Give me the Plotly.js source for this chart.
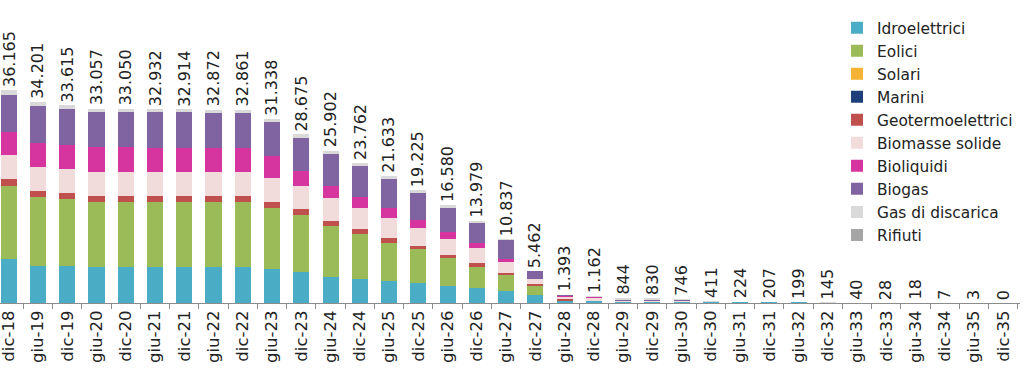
<!DOCTYPE html>
<html>
<head>
<meta charset="utf-8">
<script src="https://cdn.plot.ly/plotly-3.0.1.min.js"></script>
<style>
  html, body { margin: 0; padding: 0; background: #fff; }
  #chart { width: 1024px; height: 374px; }
</style>
</head>
<body>
<div id="chart"></div>
<script>
var categories = ["dic-18","giu-19","dic-19","giu-20","dic-20","giu-21","dic-21","giu-22","dic-22","giu-23",
  "dic-23","giu-24","dic-24","giu-25","dic-25","giu-26","dic-26","giu-27","dic-27","giu-28",
  "dic-28","giu-29","dic-29","giu-30","dic-30","giu-31","dic-31","giu-32","dic-32","giu-33",
  "dic-33","giu-34","dic-34","giu-35","dic-35"];

var totals = [36165,34201,33615,33057,33050,32932,32914,32872,32861,31338,
  28675,25902,23762,21633,19225,16580,13979,10837,5462,1393,
  1162,844,830,746,411,224,207,199,145,40,
  28,18,7,3,0];

var idroelettrici = [7500,6350,6350,6200,6200,6200,6200,6200,6200,5800,
  5200,4500,4100,3750,3450,2900,2600,2050,1350,350,
  300,150,150,100,200,120,110,110,80,25,
  18,10,5,2,0];
var eolici = [12400,11750,11300,11050,11000,10950,10950,10920,10920,10400,
  9750,8600,7600,6400,5700,4800,3600,2700,1500,50,
  20,0,0,0,0,0,0,0,0,0,
  0,0,0,0,0];
var solari = [0,0,0,0,0,0,0,0,0,0, 0,0,0,0,0,0,0,0,0,0, 0,0,0,0,0,0,0,0,0,0, 0,0,0,0,0];
var marini = [0,0,0,0,0,0,0,0,0,0, 0,0,0,0,0,0,0,0,0,0, 0,0,0,0,0,0,0,0,0,0, 0,0,0,0,0];
var geotermoelettrici = [1100,1000,1000,950,1000,1000,1000,1000,1000,1000,
  1000,900,850,850,600,450,550,400,350,200,
  60,0,0,0,0,0,0,0,0,0,
  0,0,0,0,0];
var biomasseSolide = [4100,4100,4100,4050,4100,4100,4100,4100,4100,4000,
  3900,3900,3600,3400,3050,2650,2550,1850,800,500,
  500,250,250,300,50,0,0,0,0,0,
  0,0,0,0,0];
var bioliquidi = [4000,4000,4100,4200,4150,4100,4100,4100,4100,3800,
  2550,2000,1800,1700,1300,1300,950,550,150,150,
  100,0,0,0,0,0,0,0,0,0,
  0,0,0,0,0];
var biogas = [6215,6300,6150,6030,6050,6050,6030,6020,6010,5770,
  5700,5500,5360,5030,4650,4100,3400,3100,1250,100,
  80,50,50,46,0,0,0,0,0,0,
  0,0,0,0,0];
var gasDiscarica = [850,701,615,577,550,532,534,532,531,568,
  575,502,452,503,475,380,329,187,62,43,
  102,394,380,300,161,104,97,89,65,15,
  10,8,2,1,0];
var rifiuti = [0,0,0,0,0,0,0,0,0,0, 0,0,0,0,0,0,0,0,0,0, 0,0,0,0,0,0,0,0,0,0, 0,0,0,0,0];

var seriesNames = ["Idroelettrici","Eolici","Solari","Marini","Geotermoelettrici",
  "Biomasse solide","Bioliquidi","Biogas","Gas di discarica","Rifiuti"];
var seriesValues = [idroelettrici, eolici, solari, marini, geotermoelettrici,
  biomasseSolide, bioliquidi, biogas, gasDiscarica, rifiuti];
var seriesColors = ["#4bacc6","#9bbb59","#f5b335","#1f3f7a","#c0504d",
  "#f2dcdb","#d6359f","#8064a2","#d9d9d9","#a5a5a5"];

function fmt(v) {
  return String(v).replace(/\B(?=(\d{3})+(?!\d))/g, ".");
}

var FONT = "DejaVu Sans, sans-serif";

var traces = seriesNames.map(function (name, i) {
  return {
    type: "bar",
    name: name,
    x: categories,
    y: seriesValues[i],
    marker: { color: seriesColors[i], line: { width: 0 } },
    hoverinfo: "skip"
  };
});

var annotations = categories.map(function (c, i) {
  return {
    x: c,
    y: totals[i],
    xref: "x",
    yref: "y",
    text: fmt(totals[i]),
    showarrow: false,
    textangle: -90,
    xanchor: "center",
    yanchor: "bottom",
    yshift: 1,
    font: { family: FONT, size: 16, color: "#222222" }
  };
});

var layout = {
  width: 1024,
  height: 374,
  margin: { l: 0, r: 4, t: 0, b: 71, pad: 0 },
  paper_bgcolor: "#ffffff",
  plot_bgcolor: "#ffffff",
  barmode: "stack",
  bargap: 0.45,
  showlegend: true,
  legend: {
    x: 0.8206,
    xanchor: "left",
    y: 0.963,
    yanchor: "top",
    bgcolor: "rgba(255,255,255,0)",
    font: { family: FONT, size: 15.4, color: "#222222" },
    tracegroupgap: 0,
    traceorder: "normal",
    itemwidth: 30
  },
  xaxis: {
    type: "category",
    range: [-0.3, 34.57],
    tickangle: -90,
    tickson: "boundaries",
    ticks: "outside",
    ticklen: 5,
    tickcolor: "#8c8c8c",
    showline: true,
    linecolor: "#8c8c8c",
    linewidth: 1,
    showgrid: false,
    zeroline: false,
    tickfont: { family: FONT, size: 16.5, color: "#222222" },
    fixedrange: true
  },
  yaxis: {
    range: [0, 51500],
    visible: false,
    showgrid: false,
    zeroline: false,
    fixedrange: true
  },
  annotations: annotations,
  hovermode: false
};

Plotly.newPlot("chart", traces, layout, { displayModeBar: false, staticPlot: true });
</script>
</body>
</html>
